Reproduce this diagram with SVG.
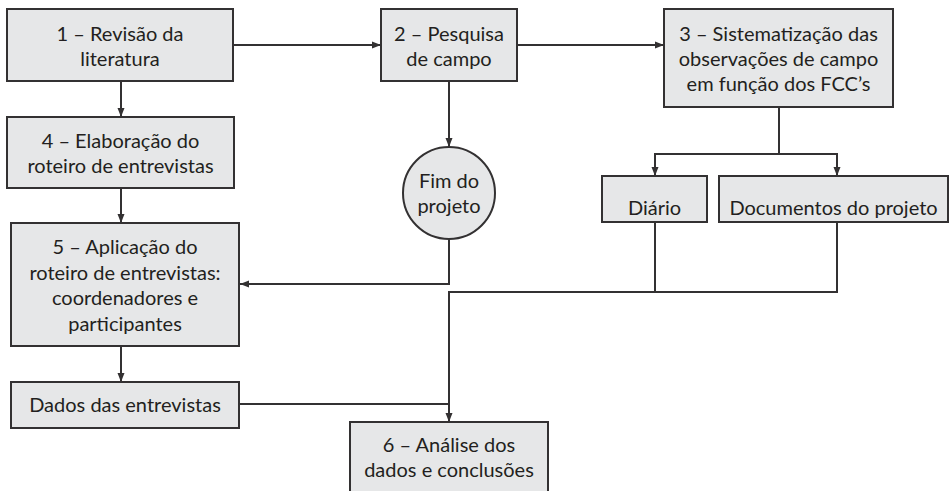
<svg xmlns="http://www.w3.org/2000/svg" width="949" height="491" viewBox="0 0 949 491">
<style>
.box{fill:#e6e7e8;stroke:#333132;stroke-width:2}
.t{font-family:"Lato","Liberation Sans",sans-serif;font-size:20px;fill:#231f20;text-anchor:middle}
.c{fill:none;stroke:#333132;stroke-width:2}
</style>
<defs>
<marker id="ah" markerUnits="userSpaceOnUse" markerWidth="10" markerHeight="8" refX="9" refY="4" orient="auto">
<path d="M0,0.5 L9,4 L0,7.5 z" fill="#333132"/>
</marker>
</defs>
<rect width="949" height="491" fill="#ffffff"/>
<g id="connectors">
<path class="c" d="M121,81 V117" marker-end="url(#ah)"/>
<path class="c" d="M233,45 H381" marker-end="url(#ah)"/>
<path class="c" d="M517,45 H664" marker-end="url(#ah)"/>
<path class="c" d="M449,81 V147" marker-end="url(#ah)"/>
<path class="c" d="M779,107 V154"/>
<path class="c" d="M655,154 H837"/>
<path class="c" d="M655,153 V176" marker-end="url(#ah)"/>
<path class="c" d="M837,153 V176" marker-end="url(#ah)"/>
<path class="c" d="M121,188 V223" marker-end="url(#ah)"/>
<path class="c" d="M449,239 V284 H240" marker-end="url(#ah)"/>
<path class="c" d="M655,222 V292"/>
<path class="c" d="M837,222 V292 H449 V422" marker-end="url(#ah)"/>
<path class="c" d="M121,346 V382" marker-end="url(#ah)"/>
<path class="c" d="M239,404 H449"/>
</g>
<g id="n1"><rect class="box" x="7" y="9" width="226" height="72"/>
<text class="t" x="120" y="40.5">1 – Revisão da</text><text class="t" x="120" y="65.5">literatura</text></g>
<g id="n2"><rect class="box" x="381" y="9" width="136" height="72"/>
<text class="t" x="449" y="40.5">2 – Pesquisa</text><text class="t" x="449" y="65.5">de campo</text></g>
<g id="n3"><rect class="box" x="664" y="9" width="229" height="98"/>
<text class="t" x="778.5" y="40.5">3 – Sistematização das</text><text class="t" x="778.5" y="65.5">observações de campo</text><text class="t" x="778.5" y="90.5">em função dos FCC’s</text></g>
<g id="n4"><rect class="box" x="7" y="117" width="227" height="71"/>
<text class="t" x="120.5" y="148">4 – Elaboração do</text><text class="t" x="120.5" y="173">roteiro de entrevistas</text></g>
<g id="nfim"><circle class="box" cx="449" cy="193" r="46"/>
<text class="t" x="449" y="188">Fim do</text><text class="t" x="449" y="213">projeto</text></g>
<g id="ndiario"><rect class="box" x="602" y="176" width="105" height="46"/>
<text class="t" x="654.5" y="215">Diário</text></g>
<g id="ndoc"><rect class="box" x="719" y="176" width="229" height="46"/>
<text class="t" x="833.5" y="215">Documentos do projeto</text></g>
<g id="n5"><rect class="box" x="11" y="223" width="228" height="123"/>
<text class="t" x="125" y="254">5 – Aplicação do</text><text class="t" x="125" y="279.5">roteiro de entrevistas:</text><text class="t" x="125" y="305">coordenadores e</text><text class="t" x="125" y="330.5">participantes</text></g>
<g id="ndados"><rect class="box" x="11" y="382" width="228" height="46"/>
<text class="t" x="125" y="411.5">Dados das entrevistas</text></g>
<g id="n6"><rect class="box" x="350" y="422" width="198" height="75"/>
<text class="t" x="449" y="452">6 – Análise dos</text><text class="t" x="449" y="477">dados e conclusões</text></g>
</svg>
